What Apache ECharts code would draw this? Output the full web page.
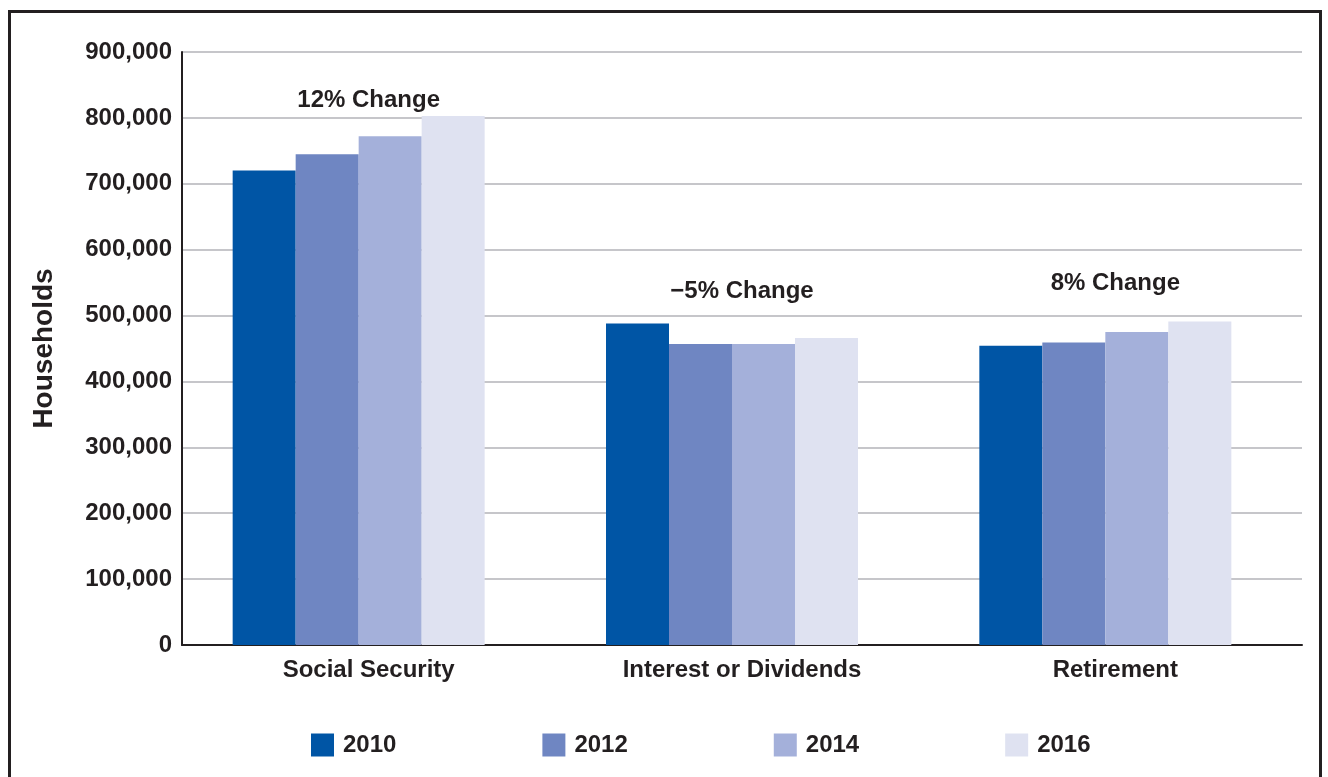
<!DOCTYPE html>
<html>
<head>
<meta charset="utf-8">
<title>Households by income source</title>
<script src="https://cdn.jsdelivr.net/npm/echarts@6/dist/echarts.min.js"></script>
<style>
  html, body { margin: 0; padding: 0; background: #fff; }
  #chart { width: 1328px; height: 777px; }
</style>
</head>
<body>
<div id="chart"></div>
<script>
  // categories and years
  var categories = ["Social Security", "Interest or Dividends", "Retirement"];
  var years = ["2010", "2012", "2014", "2016"];

  // households per year, one value per category
  var v2010 = [720000, 488000, 454000];
  var v2012 = [745000, 457000, 459000];
  var v2014 = [772000, 457000, 475000];
  var v2016 = [803000, 466000, 491000];

  // change notes above each group
  var changeLabels = ["12% Change", "\u22125% Change", "8% Change"];
  var changeLevels = [826000, 537000, 549000];

  var colors = ["#0055a5", "#6f86c2", "#a4b0da", "#dfe2f1"];
  var ink = "#231f20";
  var font = "Liberation Sans, Arial, sans-serif";

  var myChart = echarts.init(document.getElementById("chart"));

  var values = [v2010, v2012, v2014, v2016];
  // bars sit a little left of the label centres in the original, so they get their own hidden axes
  var series = years.map(function(y, i) {
    return {
      name: y,
      type: "bar",
      xAxisIndex: 1,
      yAxisIndex: 1,
      barWidth: 63,
      barGap: "0%",
      itemStyle: { color: colors[i] },
      data: values[i]
    };
  });

  series.push({
    name: "notes",
    type: "scatter",
    symbolSize: 0,
    silent: true,
    itemStyle: { opacity: 1 },
    label: {
      show: true,
      position: "inside",
      color: ink,
      opacity: 1,
      fontFamily: font,
      fontWeight: "bold",
      fontSize: 24,
      formatter: function(p) { return changeLabels[p.dataIndex]; }
    },
    data: categories.map(function(c, i) { return [c, changeLevels[i]]; })
  });

  var option = {
    animation: false,
    color: colors,
    grid: [
      { left: 182, right: 26, top: 52, bottom: 132 },
      { left: 172, right: 36, top: 52, bottom: 132 }
    ],
    legend: {
      data: years,
      left: 306,
      top: 728,
      itemWidth: 23,
      itemHeight: 23,
      itemGap: 146,
      icon: "rect",
      textStyle: {
        color: ink, fontFamily: font, fontWeight: "bold", fontSize: 24,
        padding: [0, 0, 0, 4]
      }
    },
    xAxis: [{
      type: "category",
      gridIndex: 0,
      data: categories,
      axisLine: { lineStyle: { color: ink, width: 2 } },
      axisTick: { show: false },
      axisLabel: {
        color: ink, fontFamily: font, fontWeight: "bold", fontSize: 24, margin: 13
      }
    }, {
      type: "category",
      gridIndex: 1,
      data: categories,
      show: false
    }],
    yAxis: [{
      type: "value",
      gridIndex: 0,
      min: 0,
      max: 900000,
      interval: 100000,
      name: "Households",
      nameLocation: "middle",
      nameGap: 124,
      nameTextStyle: { color: ink, fontFamily: font, fontWeight: "bold", fontSize: 28 },
      axisLine: { show: true, lineStyle: { color: ink, width: 2 } },
      axisTick: { show: false },
      axisLabel: {
        color: ink, fontFamily: font, fontWeight: "bold", fontSize: 24, margin: 10,
        formatter: function(v) { return v.toLocaleString("en-US"); }
      },
      splitLine: { lineStyle: { color: "#c6c6ca", width: 2 } }
    }, {
      type: "value",
      gridIndex: 1,
      min: 0,
      max: 900000,
      interval: 100000,
      show: false,
      splitLine: { show: false }
    }],
    graphic: [{
      type: "rect",
      silent: true,
      shape: { x: 9.5, y: 11.5, width: 1311, height: 820 },
      style: { fill: null, stroke: ink, lineWidth: 3 }
    }],
    series: series
  };

  myChart.setOption(option);
  window.addEventListener("resize", function() {
    myChart.resize();
  });
</script>
</body>
</html>
